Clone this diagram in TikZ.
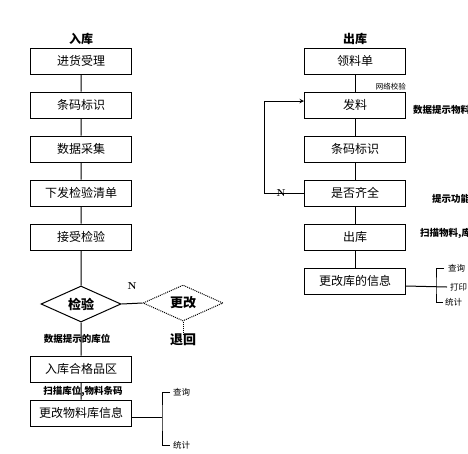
\documentclass[tikz,border=0pt]{standalone}
\usepackage{fontspec}
\newfontfamily\cjk{Noto Sans CJK SC}
\usetikzlibrary{shapes.geometric}
\usetikzlibrary{positioning}

\tikzset{
  stepbox/.style={draw, line width=1pt, minimum width=101pt, minimum height=26pt,
    inner sep=0pt, font=\cjk\fontsize{12}{14}\selectfont},
  check/.style={diamond, draw, line width=1pt, minimum width=80pt, minimum height=36pt,
    aspect=2.2, inner sep=0pt, font=\cjk\bfseries\fontsize{13}{15}\selectfont},
  title/.style={font=\cjk\bfseries\fontsize{12}{14}\selectfont, inner sep=0pt},
  hint/.style={font=\cjk\bfseries\fontsize{9.5}{11}\selectfont, inner sep=0pt},
  side/.style={font=\cjk\fontsize{8.5}{10}\selectfont, inner sep=0pt},
  link/.style={line width=1pt},
}

\begin{document}
\begin{tikzpicture}[x=1pt,y=-1pt]
            \clip (0,0) rectangle (468,453);
            % stock in
            \node[title] (inT) at (81,39) {入库};
            \node[stepbox] (in1) at (81,61) {进货受理};
            \node[stepbox] (in2) at (81,105) {条码标识};
            \node[stepbox] (in3) at (81,149) {数据采集};
            \node[stepbox] (in4) at (81,193) {下发检验清单};
            \node[stepbox] (in5) at (81,237) {接受检验};
            \node[check] (chk) at (81,304) {检验};
            \node[check, densely dotted] (chg) at (183,303) {更改};
            \node[title, font=\cjk\bfseries\fontsize{13}{15}\selectfont] (back) at (183,340) {退回};
            \node[font=\bfseries] (inN) at (132,286) {N};
            \node[stepbox] (in6) at (81,369) {入库合格品区};
            \node[stepbox] (in7) at (81,413) {更改物料库信息};
            \node[hint] (h1) at (77,339) {数据提示的库位};
            \node[hint] (h2) at (83,391) {扫描库位,物料条码};
            \draw[link] (in1) -- (in2) (in2) -- (in3) (in3) -- (in4) (in4) -- (in5)
              (in5) -- (chk.north) (chk.south) -- (in6) (in6) -- (in7)
              (chk.east) -- (chg.west);
            \draw[link, densely dotted] (chg.south) -- (back.north);
            % query / statistics
            \coordinate (lb) at (162,417);
            \node[side, anchor=west] (lq) at (173,392) {查询};
            \node[side, anchor=west] (ls) at (173,445) {统计};
            \draw[link] ([yshift=-4pt]in7.east) -- (lb);
            \draw[link] (lq.west) ++(-3,0) -| (lb) |- ([xshift=-3pt]ls.west);

            % stock out
            \node[title] (outT) at (355,39) {出库};
            \node[stepbox] (out1) at (355,61) {领料单};
            \node[stepbox] (out2) at (355,105) {发料};
            \node[stepbox] (out3) at (355,149) {条码标识};
            \node[stepbox] (out4) at (355,193) {是否齐全};
            \node[stepbox] (out5) at (355,237) {出库};
            \node[stepbox] (out6) at (355,281) {更改库的信息};
            \node[side, font=\cjk\fontsize{7.5}{9}\selectfont, anchor=south east] (net) at ([yshift=1pt]out2.north east) {网络校验};
            \node[hint, anchor=west] (h3) at (413,110) {数据提示物料库位};
            \node[hint, anchor=west] (h4) at (432,199) {提示功能};
            \node[hint, anchor=west] (h5) at (420,233) {扫描物料,库位};
            \draw[link] (out1) -- (out2) (out2) -- (out3) (out3) -- (out4)
              (out4) -- (out5) (out5) -- (out6);
            \coordinate (loop) at (264,193);
            \draw[link, ->, >=stealth] (out4.west) -- (loop) |- ([yshift=4pt]out2.west);
            \node[font=\bfseries] (outN) at (281,193) {N};
            % query / print / statistics
            \coordinate (rb) at (436,286);
            \node[side, anchor=west] (rq) at (448,268) {查询};
            \node[side, anchor=west] (rp) at (450,287) {打印};
            \node[side, anchor=west] (rs) at (445,302) {统计};
            \draw[link] ([yshift=-5pt]out6.east) -- ([xshift=-3pt]rp.west);
            \draw[link] ([xshift=-4pt]rq.west) -| (rb) |- ([xshift=-2pt]rs.west);
        \end{tikzpicture}
\end{document}
